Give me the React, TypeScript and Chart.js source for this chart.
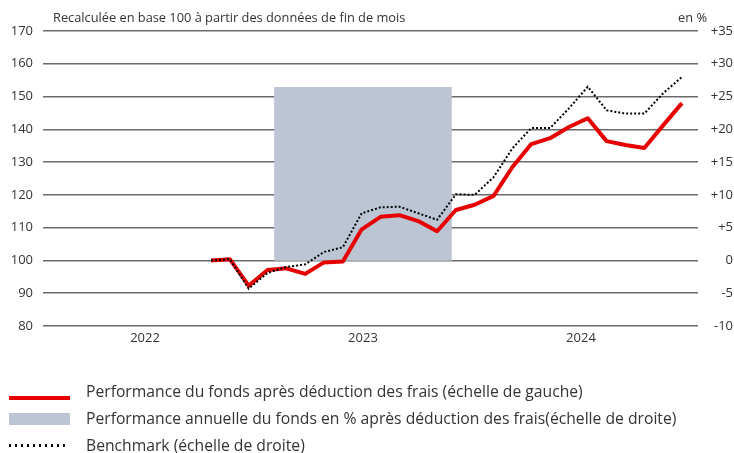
import React, { useEffect, useRef } from 'react';
import { Chart, registerables } from 'chart.js';

Chart.register(...registerables);

// Year labels on the x axis
const years = [2022, 2023, 2024];
// Annual fund performance bars (right scale, %)
const barYears = [2023];
const annualPerfPct = [26.4];
// Monthly fund performance rebased to 100 (left scale)
const fundIndex = [100, 100.4, 92.3, 97.1, 97.6, 95.9, 99.4, 99.7, 109.5, 113.3, 113.8, 112.0, 108.9, 115.4, 117.0, 119.7, 128.5, 135.5, 137.3, 140.7, 143.4, 136.4, 135.2, 134.3, 141.2, 148.0];
// Benchmark (right scale, %)
const benchmarkPct = [0, 0.2, -4.3, -1.9, -1.0, -0.6, 1.3, 2.0, 7.2, 8.1, 8.2, 7.2, 6.2, 10.1, 10.0, 12.7, 17.1, 20.2, 20.2, 23.2, 26.5, 22.9, 22.4, 22.4, 25.5, 28.0];
// Axis ticks
const leftTicks = [80, 90, 100, 110, 120, 130, 140, 150, 160, 170];
const rightTicks = [-10, -5, 0, 5, 10, 15, 20, 25, 30, 35];

const headerText = 'Recalculée en base 100 à partir des données de fin de mois';
const unitText = 'en %';
const legendLabels = [
  'Performance du fonds après déduction des frais (échelle de gauche)',
  'Performance annuelle du fonds en % après déduction des frais(échelle de droite)',
  'Benchmark (échelle de droite)',
];

const FONT = "'Open Sans', 'Noto Sans', sans-serif";
const TEXT = '#333333';
const RED = '#e60000';
const BAR = '#bcc5d4';

export default function App() {
  const ref = useRef<HTMLCanvasElement | null>(null);

  useEffect(() => {
    if (!ref.current) return;
    Chart.defaults.font.family = FONT;
    const headerPlugin = {
      id: 'header',
      afterDraw(chart: any) {
        const { ctx, chartArea } = chart;
        ctx.save();
        ctx.fillStyle = TEXT;
        ctx.font = `12.8px ${FONT}`;
        ctx.textBaseline = 'middle';
        ctx.textAlign = 'left';
        ctx.fillText(headerText, chartArea.left + 10, chartArea.top - 13);
        ctx.textAlign = 'right';
        ctx.fillText(unitText, chartArea.right + 9, chartArea.top - 13);
        ctx.restore();
      },
    };

    const chart = new Chart(ref.current, {
      type: 'bar',
      data: {
        datasets: [
          {
            type: 'line',
            label: legendLabels[2],
            data: benchmarkPct.map((v, i) => ({ x: i, y: v })),
            xAxisID: 'xm',
            yAxisID: 'y1',
            borderColor: '#000000',
            borderWidth: 2,
            borderDash: [2, 2],
            pointRadius: 0,
            tension: 0,
            order: 0,
          } as any,
          {
            type: 'line',
            label: legendLabels[0],
            data: fundIndex.map((v, i) => ({ x: i, y: v })),
            xAxisID: 'xm',
            yAxisID: 'y',
            borderColor: RED,
            borderWidth: 4,
            pointRadius: 0,
            tension: 0,
            borderJoinStyle: 'round',
            order: 1,
          } as any,
          {
            type: 'bar',
            label: legendLabels[1],
            data: barYears.map((yr, i) => ({ x: yr, y: annualPerfPct[i] })),
            xAxisID: 'x',
            yAxisID: 'y1',
            backgroundColor: BAR,
            barThickness: 177,
            grouped: false,
            order: 2,
          } as any,
        ],
      },
      options: {
        animation: false,
        responsive: true,
        maintainAspectRatio: false,
        layout: { padding: { top: 31, right: 1, left: 0, bottom: 0 } },
        plugins: {
          legend: { display: false },
          tooltip: { enabled: false },
        },
        scales: {
          x: {
            type: 'linear',
            position: 'bottom',
            offset: false,
            min: 2021.532,
            max: 2024.537,
            afterBuildTicks: (scale: any) => {
              scale.ticks = years.map((v) => ({ value: v }));
            },
            afterFit: (scale: any) => {
              scale.height = 127;
            },
            ticks: {
              callback: (v: any) => String(v),
              color: TEXT,
              font: { size: 13, family: FONT },
              padding: 4,
              maxRotation: 0,
              autoSkip: false,
            },
            grid: { display: false, drawTicks: false, offset: false },
            border: { display: false },
          },
          xm: {
            type: 'linear',
            display: false,
            offset: false,
            grid: { offset: false },
            min: -8.917,
            max: 25.85,
          },
          y: {
            type: 'linear',
            position: 'left',
            min: 80,
            max: 170,
            afterBuildTicks: (scale: any) => {
              scale.ticks = leftTicks.map((v) => ({ value: v }));
            },
            afterFit: (scale: any) => {
              scale.width = 43;
            },
            ticks: {
              color: TEXT,
              font: { size: 13, family: FONT },
              padding: 10,
            },
            grid: { color: '#6b6b6b', lineWidth: 1.5, drawTicks: false },
            border: { display: false },
          },
          y1: {
            type: 'linear',
            position: 'right',
            min: -10,
            max: 35,
            afterBuildTicks: (scale: any) => {
              scale.ticks = rightTicks.map((v) => ({ value: v }));
            },
            afterFit: (scale: any) => {
              scale.width = 35;
            },
            ticks: {
              color: TEXT,
              font: { size: 13, family: FONT },
              crossAlign: 'far',
              callback: (v: any) => (v > 0 ? '+' + v : String(v)),
            },
            grid: { display: false, drawTicks: false },
            border: { display: false },
          },
        },
      } as any,
      plugins: [headerPlugin],
    });
    return () => chart.destroy();
  }, []);

  const rowStyle: React.CSSProperties = {
    position: 'absolute',
    left: 86,
    fontFamily: FONT,
    fontSize: 15.7,
    color: TEXT,
    whiteSpace: 'nowrap',
    lineHeight: '20px',
  };

  return (
    <div style={{ position: 'absolute', left: 0, top: 0, width: 734, height: 453, background: '#fff' }}>
      <canvas ref={ref} style={{ position: 'absolute', left: 0, top: 0, width: 734, height: 453 }} />
      <div style={{ position: 'absolute', left: 9, top: 396, width: 61, height: 4, background: RED }} />
      <div style={{ ...rowStyle, top: 381 }}>{legendLabels[0]}</div>
      <div style={{ position: 'absolute', left: 9, top: 413, width: 61, height: 12, background: BAR }} />
      <div style={{ ...rowStyle, top: 408 }}>{legendLabels[1]}</div>
      <div
        style={{
          position: 'absolute',
          left: 9,
          top: 444,
          width: 57,
          height: 3,
          backgroundImage: 'repeating-linear-gradient(to right, #000 0px, #000 2px, transparent 2px, transparent 6px)',
        }}
      />
      <div style={{ ...rowStyle, top: 435 }}>{legendLabels[2]}</div>
    </div>
  );
}
